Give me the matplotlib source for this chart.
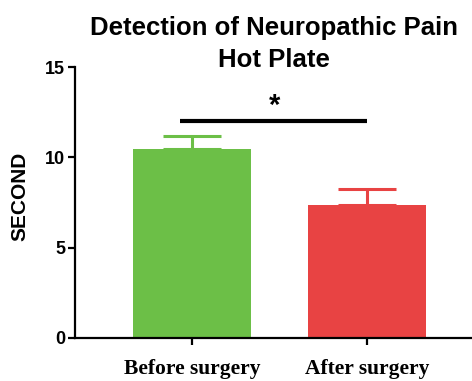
import matplotlib
matplotlib.use("Agg")
from matplotlib import pyplot as plt

# data
groups = ["Before surgery", "After surgery"]
means = [10.47, 7.37]
errors = [0.72, 0.88]
bar_colors = ["#6cbf47", "#e84343"]
sig_height = 12.0
sig_label = "*"
title_lines = ["Detection of Neuropathic Pain", "Hot Plate"]

fig = plt.figure(figsize=(4.72, 3.81), dpi=100)
ax = fig.add_axes([0.159, 0.113, 0.841, 0.711])

positions = list(range(len(groups)))
ax.bar(positions, means, width=0.67, color=bar_colors, zorder=2)

# upper-only error bars in the bar colour
for pos, m, e, c in zip(positions, means, errors, bar_colors):
    ax.errorbar(pos, m, yerr=[[0], [e]], color=c, capsize=21,
                elinewidth=2.2, capthick=2.2, zorder=1)

# significance line
ax.plot([-0.07, 1.0], [sig_height, sig_height], color="black", lw=3,
        solid_capstyle="butt")
ax.text(0.47, sig_height + 0.05, sig_label, ha="center", va="bottom",
        fontsize=21, fontweight="bold", family="Liberation Sans")

ax.set_xlim(-0.669, 1.6)
ax.set_ylim(0, 15)
ax.set_yticks([0, 5, 10, 15])
ax.set_xticks(positions)
ax.set_xticklabels(groups, fontsize=15.5, fontweight="bold",
                   family="Liberation Serif")
for lab in ax.get_yticklabels():
    lab.set_fontsize(13)
    lab.set_fontweight("bold")
    lab.set_family("Liberation Sans")

for side in ["top", "right"]:
    ax.spines[side].set_visible(False)
for side in ["left", "bottom"]:
    ax.spines[side].set_linewidth(1.6)
ax.tick_params(width=1.6, length=5, pad=2)
ax.tick_params(axis="x", pad=10)

ax.set_ylabel("SECOND", fontsize=15, fontweight="bold",
              family="Liberation Sans")
ax.yaxis.set_label_coords(-0.116, 0.524)

# two title lines placed on their own baselines
fig.text(0.58, 0.908, title_lines[0], ha="center", va="baseline",
         fontsize=18.5, fontweight="bold", family="Liberation Sans")
fig.text(0.58, 0.824, title_lines[1], ha="center", va="baseline",
         fontsize=18.5, fontweight="bold", family="Liberation Sans")

fig.savefig("out.png", dpi=100)
